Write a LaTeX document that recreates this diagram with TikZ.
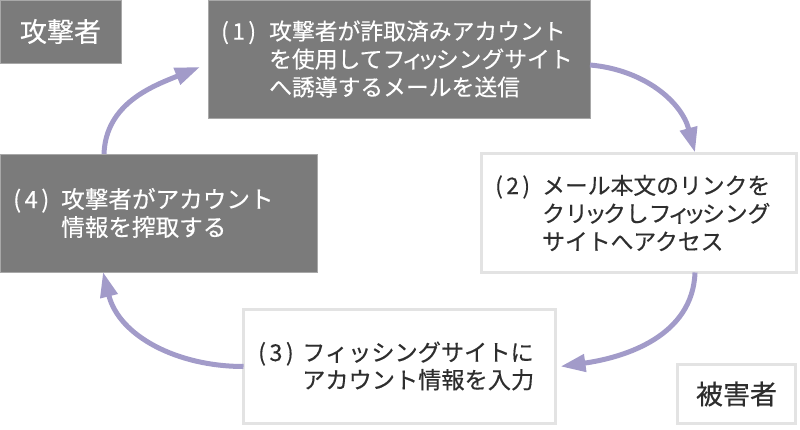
\documentclass[tikz,border=0pt]{standalone}
\usepackage{fontspec}
\setmainfont{Noto Sans CJK JP}[FakeBold=0.35]
\usetikzlibrary{arrows.meta}
\newcommand\smk[1]{\kern-0.165em#1\kern-0.165em}
\definecolor{boxgray}{HTML}{7B7B7B}
\definecolor{graylite}{HTML}{A8A8A8}
\definecolor{edgegray}{HTML}{E3E3E3}
\definecolor{arrowc}{HTML}{A29BC9}
\definecolor{txt}{HTML}{2E2E2E}
\begin{document}
\begin{tikzpicture}[x=1pt,y=1pt,
  graybox/.style={fill=boxgray, draw=graylite, line width=0.8pt, inner sep=0pt, outer sep=0pt},
  whitebox/.style={fill=white, draw=edgegray, line width=3pt, inner sep=0pt, outer sep=0pt},
  steptext/.style={font=\fontsize{22.8}{28}\selectfont, align=left, anchor=west, inner sep=0pt},
  roletext/.style={font=\fontsize{27}{30}\selectfont, inner sep=0pt},
  flow/.style={draw=arrowc, line width=5pt, -{Triangle[width=17pt,length=25pt]}}
]
\useasboundingbox (0,0) rectangle (800,430);
% boxes
\node[graybox, minimum width=121pt, minimum height=63pt] (att) at (60.5,398.5) {};
\node[graybox, minimum width=382pt, minimum height=118pt] (b1) at (399,371) {};
\node[graybox, minimum width=317pt, minimum height=118pt] (b4) at (158.5,217) {};
\node[whitebox, minimum width=315pt, minimum height=119pt] (b2) at (639,217) {};
\node[whitebox, minimum width=312pt, minimum height=114pt] (b3) at (399.5,63.5) {};
\node[whitebox, minimum width=118pt, minimum height=59pt] (vic) at (736.5,36) {};
% texts
\node[roletext, text=white] (attt) at (att.center) {攻撃者};
\node[roletext, text=txt] (vict) at (vic.center) {被害者};
\node[steptext, text=white] (b1t) at (221,371) {\makebox[48pt][l]{(\hspace{0.15em}1\hspace{0.15em})}攻撃者が詐取済みアカウント\\\hspace*{48pt}を使用してフ\smk{ィ}\smk{ッ}シングサイト\\\hspace*{48pt}へ誘導するメールを送信};
\node[steptext, text=txt] (b2t) at (495,217) {\makebox[47pt][l]{(\hspace{0.15em}2\hspace{0.15em})}メール本文のリンクを\\\hspace*{47pt}クリ\smk{ッ}クしフ\smk{ィ}\smk{ッ}シング\\\hspace*{47pt}サイトへアクセス};
\node[steptext, text=txt, font=\fontsize{23.2}{27.5}\selectfont] (b3t) at (258,64) {\makebox[44pt][l]{(\hspace{0.15em}3\hspace{0.15em})}フィッシングサイトに\\\hspace*{44pt}アカウント情報を入力};
\node[steptext, text=white, font=\fontsize{23.6}{28}\selectfont] (b4t) at (13,217) {\makebox[48pt][l]{(\hspace{0.15em}4\hspace{0.15em})}攻撃者がアカウント\\\hspace*{48pt}情報を搾取する};
% arrows
\draw[flow] ([yshift=-6pt]b1.east) to[out=-5,in=105] ([xshift=56pt,yshift=1pt]b2.north);
\draw[flow] ([xshift=56pt]b2.south) to[out=-92,in=8] ([xshift=5pt]b3.east);
\draw[flow] (b3.west) to[out=180,in=-76] ([xshift=-55.5pt]b4.south);
\draw[flow] ([xshift=-54.5pt]b4.north) to[out=88,in=-158] ([xshift=-8pt,yshift=-8pt]b1.west);
\end{tikzpicture}
\end{document}
